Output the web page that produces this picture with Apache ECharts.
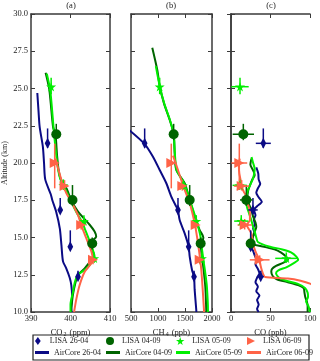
<!DOCTYPE html>
<html>
<head>
<meta charset="utf-8">
<script src="https://cdn.jsdelivr.net/npm/echarts/dist/echarts.min.js"></script>
<style>
  html, body { margin: 0; padding: 0; background: #fff; }
  #chart { width: 320px; height: 361px; }
</style>
</head>
<body>
<div id="chart"></div>
<script>
// ---- data: [value, altitude km] ----
const co2Air2604 = [[391.6,24.7],[391.9,23.5],[392.2,22.4],[393.0,21.1],[393.3,20.0],[393.6,18.9],[395.0,17.9],[395.4,17.5],[396.4,16.7],[397.3,15.6],[397.7,14.5],[398.1,13.4],[398.9,12.95],[399.8,12.3],[400.2,11.8],[400.4,11.1],[400.2,10.3],[400.3,10.0]];
const co2Air0409 = [[393.7,26.06],[394.6,25.0],[395.0,24.0],[395.6,22.4],[396.2,21.9],[396.6,20.5],[397.0,19.5],[397.6,18.86],[399.0,18.3],[400.2,17.5],[401.9,16.73],[404.9,15.84],[406.1,15.4],[406.5,15.05],[405.3,14.7],[405.5,14.2],[405.7,13.8],[403.6,12.93],[401.9,12.5],[401.1,11.8],[400.6,11.14],[400.2,10.27],[400.1,10.0]];
const co2Air0509 = [[394.0,26.0],[394.8,25.0],[395.2,24.0],[395.7,22.4],[396.2,21.0],[396.9,19.5],[397.5,18.86],[398.6,18.3],[400.0,17.5],[401.5,16.7],[403.0,16.0],[403.6,15.6],[405.2,14.5],[406.1,13.7],[404.0,12.9],[401.9,12.5],[401.1,12.0],[400.6,11.3],[400.0,10.5],[400.0,10.0]];
const co2Air0609 = [[396.2,20.3],[397.7,18.86],[398.9,18.0],[400.2,17.4],[401.9,16.5],[402.7,15.84],[404.0,14.95],[405.3,14.05],[405.7,13.5],[403.6,12.7],[402.3,11.8],[401.5,10.9],[400.9,10.0]];

const ch4Air2604 = [[470,22.2],[753,21.27],[907,20.42],[1031,19.53],[1154,18.64],[1246,17.74],[1339,17.07],[1370,16.85],[1401,16.17],[1494,15.28],[1568,14.38],[1587,13.71],[1630,12.82],[1667,12.37],[1679,11.48],[1709,10.13],[1710,10.0]];
const ch4Air0409 = [[894,27.74],[987,26.24],[1031,25.17],[1111,24.0],[1216,22.9],[1290,21.93],[1309,20.65],[1339,19.53],[1494,18.64],[1587,17.52],[1679,16.4],[1772,15.5],[1840,15.0],[1815,14.6],[1800,14.2],[1830,13.3],[1876,11.7],[1894,10.13],[1895,10.0]];
const ch4Air0509 = [[960,26.5],[1031,25.17],[1115,24.0],[1220,22.9],[1290,21.93],[1312,20.65],[1345,19.53],[1480,18.64],[1590,17.52],[1690,16.4],[1760,15.5],[1790,15.0],[1800,14.6],[1850,13.27],[1880,12.5],[1905,11.7],[1925,10.13],[1925,10.0]];
const ch4Air0609 = [[1278,20.5],[1370,19.53],[1463,18.5],[1587,17.3],[1679,15.95],[1741,14.6],[1802,12.82],[1852,10.13],[1853,10.0]];

const coAir2604 = [[32,19.7],[34.5,19.3],[35,18.9],[37,18.6],[34,18.3],[32,18.0],[35,17.7],[39,17.4],[33,17.1],[29,16.85],[31,16.5],[29,16.2],[30,15.9],[28,15.6],[30,15.3],[27,15.0],[26,14.7],[25,14.4],[28,14.1],[30,13.8],[32,13.5],[31,13.2],[34,12.9],[36,12.6],[33,12.3],[31,12.0],[34,11.7],[32,11.4],[36,11.1],[33,10.8],[35,10.5],[33,10.2],[35,10.0]];
const coAir0409 = [[26,20.3],[24.5,19.9],[28,19.5],[30,19.2],[27,18.9],[24,18.5],[22,18.2],[21,17.9],[20,17.5],[23,17.2],[26,16.8],[28,16.4],[31,16.0],[32,15.7],[30,15.4],[28,15.1],[27,14.8],[26,14.6],[40,14.4],[55,14.2],[63,14.0],[70,13.7],[72,13.5],[66,13.3],[57,13.1],[52,12.9],[51,12.7],[53,12.4],[58,12.2],[72,12.0],[85,11.8],[92,11.6],[93,11.3],[94,11.0],[96,10.7],[97,10.4],[97,10.0]];
const coAir0509 = [[26,20.4],[28,20.0],[30,19.6],[29,19.2],[27.5,18.9],[24,18.5],[21.5,18.2],[19.5,17.8],[19,17.4],[20.5,17.0],[23,16.6],[25.5,16.2],[27.5,15.8],[30,15.4],[32,15.0],[34,14.7],[48,14.4],[65,14.2],[76,14.0],[83,13.7],[85,13.5],[80,13.3],[70,13.0],[60,12.8],[57,12.6],[61,12.3],[70,12.1],[84,11.9],[94,11.6],[97,11.3],[97.5,11.0],[95,10.7],[98,10.4],[100,10.0]];
const coAir0609 = [[11,20.3],[10,19.8],[10.5,19.3],[12,18.9],[13.5,18.4],[16,18.1],[19.4,17.74],[21,17.3],[23.6,16.85],[24,16.17],[20,15.84],[25.7,15.28],[27.8,14.6],[30,14.2],[32,13.94],[36,13.5],[37.5,13.1],[39,12.8],[41,12.5],[43,12.35],[72,12.25],[88,12.1],[100,11.9],[105,11.7],[108,11.3],[110,10.8],[110,10.0]];

// LISA samples: altitude, altitude error up/down, values per gas, CO error
const lisa2604Alt = [21.32, 16.85, 14.38, 12.37];
const lisa2604Up = [1.0, 0.8, 1.1, 0.4];
const lisa2604Dn = [0.3, 0.2, 0.2, 0.2];
const lisa2604CO2 = [394.2, 397.4, 399.95, 401.9];
const lisa2604CH4 = [753, 1370, 1568, 1667];
const lisa2604CO = [40.9, 27.8, 24.9, 37.6];
const lisa2604COErr = [9.5, 6, 2, 4];

const lisa0409Alt = [21.93, 17.52, 14.6];
const lisa0409Up = [0.7, 1.0, 0.4];
const lisa0409Dn = [0.4, 0.4, 0.4];
const lisa0409CO2 = [396.4, 400.5, 405.5];
const lisa0409CH4 = [1290, 1587, 1790];
const lisa0409CO = [15.6, 19.4, 24.9];
const lisa0409COErr = [13.5, 8, 2];

const lisa0509Alt = [25.12, 18.5, 16.1, 13.6];
const lisa0509Up = [0.6, 0.4, 0.4, 0.4];
const lisa0509Dn = [0.5, 0.3, 0.3, 0.3];
const lisa0509CO2 = [395.1, 398.2, 403.4, 406.0];
const lisa0509CH4 = [1031, 1460, 1709, 1814];
const lisa0509CO = [11.4, 11, 13, 70];
const lisa0509COErr = [11, 9, 9, 14];

const lisa0609Alt = [20.0, 18.45, 15.84, 13.5];
const lisa0609Up = [1.3, 0.4, 0.4, 0.3];
const lisa0609Dn = [1.7, 0.3, 0.3, 0.3];
const lisa0609CO2 = [396.0, 398.5, 402.7, 405.7];
const lisa0609CH4 = [1246, 1450, 1698, 1772];
const lisa0609CO = [10.5, 13.5, 17.3, 36.3];
const lisa0609COErr = [10, 9.5, 9, 12.5];

const co2ErrX = 0.5, ch4ErrX = 15;

const xTicksCO2 = [390, 410, 10];
const xTicksCH4 = [500, 2000, 500];
const xTicksCO = [0, 100, 50];
const altTicks = [10, 30, 2.5];

const BLUE = '#0b0b85', DGREEN = '#006400', LGREEN = '#00ee00', RED = '#ff6347';
const FONT = '"Liberation Serif", "DejaVu Serif", serif';
const FRAME = '#3a3a3a';

const DIAMOND = 'path://M5,0 L10,7 L5,14 L0,7 Z';
const STAR = 'path://M50,0 L61,35 L98,35 L68,57 L79,91 L50,70 L21,91 L32,57 L2,35 L39,35 Z';
const TRI = 'path://M0,0 L10,5 L0,10 Z';

const chart = echarts.init(document.getElementById('chart'), null, { renderer: 'canvas' });

const gridBoxes = [
  { left: 31, width: 79 },
  { left: 131, width: 81 },
  { left: 231, width: 79 }
];
const ranges = [xTicksCO2, xTicksCH4, xTicksCO];
const xNames = ['{n|CO}{s|2}{n| (ppm)}', '{n|CH}{s|4}{n| (ppb)}', '{n|CO (ppb)}'];

const grids = gridBoxes.map(g => ({ left: g.left, width: g.width, top: 14, bottom: 49 }));

const axisCommon = {
  axisLine: { show: true, lineStyle: { color: FRAME, width: 1.5 } },
  axisTick: { show: true, inside: true, length: 4, lineStyle: { color: FRAME, width: 1 } },
  splitLine: { show: false }
};

const xAxes = [];
const yAxes = [];
// bottom x axes (0..2), then top mirrors (3..5)
ranges.forEach((r, i) => {
  xAxes.push(Object.assign({
    type: 'value', gridIndex: i, position: 'bottom', min: r[0], max: r[1], interval: r[2],
    name: xNames[i], nameLocation: 'middle', nameGap: 10,
    nameTextStyle: {
      rich: {
        n: { fontFamily: FONT, fontSize: 8.5, color: '#222' },
        s: { fontFamily: FONT, fontSize: 6, color: '#222', padding: [5, 1, 0, 1] }
      }
    },
    axisLabel: { fontFamily: FONT, fontSize: 8.5, color: '#222', margin: 2, formatter: v => String(v) }
  }, axisCommon));
});
ranges.forEach((r, i) => {
  xAxes.push(Object.assign({
    type: 'value', gridIndex: i, position: 'top', min: r[0], max: r[1], interval: r[2],
    axisLabel: { show: false }
  }, axisCommon));
});
ranges.forEach((r, i) => {
  yAxes.push(Object.assign({
    type: 'value', gridIndex: i, position: 'left', min: altTicks[0], max: altTicks[1], interval: altTicks[2],
    name: i === 0 ? 'Altitude (km)' : '', nameLocation: 'middle', nameGap: 21,
    nameTextStyle: { fontFamily: FONT, fontSize: 8, color: '#222' },
    axisLabel: { show: i === 0, fontFamily: FONT, fontSize: 8.5, color: '#222', margin: 3,
      formatter: v => v.toFixed(1) }
  }, axisCommon));
});
ranges.forEach((r, i) => {
  yAxes.push(Object.assign({
    type: 'value', gridIndex: i, position: 'right', min: altTicks[0], max: altTicks[1], interval: altTicks[2],
    axisLabel: { show: false }
  }, axisCommon));
});

const series = [];

function airLine(name, data, color, panel) {
  series.push({
    name: name, type: 'line', data: data, xAxisIndex: panel, yAxisIndex: panel,
    showSymbol: false, symbol: 'none', smooth: 0.25, clip: true,
    lineStyle: { color: color, width: 2 }, itemStyle: { color: color }, z: 2
  });
}

function errBars(color, panel, alt, vals, xErr, up, dn) {
  const data = alt.map((a, k) => [vals[k], a, Array.isArray(xErr) ? xErr[k] : xErr, up[k], dn[k]]);
  series.push({
    type: 'custom', xAxisIndex: panel, yAxisIndex: panel, z: 3, silent: true,
    encode: { x: 0, y: 1 },
    data: data,
    renderItem: function (params, api) {
      const x = api.value(0), y = api.value(1), ex = api.value(2);
      const l = api.coord([x - ex, y]), r = api.coord([x + ex, y]);
      const t = api.coord([x, y + api.value(3)]), b = api.coord([x, y - api.value(4)]);
      const st = { stroke: color, lineWidth: 1.5 };
      return { type: 'group', children: [
        { type: 'line', shape: { x1: l[0], y1: l[1], x2: r[0], y2: r[1] }, style: st },
        { type: 'line', shape: { x1: t[0], y1: t[1], x2: b[0], y2: b[1] }, style: st }
      ] };
    }
  });
}

function lisaPoints(name, color, symbol, size, panel, alt, vals) {
  series.push({
    name: name, type: 'scatter', xAxisIndex: panel, yAxisIndex: panel, z: 4,
    symbol: symbol, symbolSize: size, symbolKeepAspect: true,
    itemStyle: { color: color, opacity: 1 },
    data: alt.map((a, k) => [vals[k], a])
  });
}

// panel a: CO2
airLine('AirCore 26-04', co2Air2604, BLUE, 0);
airLine('AirCore 04-09', co2Air0409, DGREEN, 0);
airLine('AirCore 05-09', co2Air0509, LGREEN, 0);
airLine('AirCore 06-09', co2Air0609, RED, 0);
// panel b: CH4
airLine('AirCore 26-04', ch4Air2604, BLUE, 1);
airLine('AirCore 04-09', ch4Air0409, DGREEN, 1);
airLine('AirCore 05-09', ch4Air0509, LGREEN, 1);
airLine('AirCore 06-09', ch4Air0609, RED, 1);
// panel c: CO
airLine('AirCore 26-04', coAir2604, BLUE, 2);
airLine('AirCore 04-09', coAir0409, DGREEN, 2);
airLine('AirCore 05-09', coAir0509, LGREEN, 2);
airLine('AirCore 06-09', coAir0609, RED, 2);

const lisaSets = [
  { name: 'LISA 26-04', color: BLUE, symbol: DIAMOND, size: [8, 11], alt: lisa2604Alt, up: lisa2604Up, dn: lisa2604Dn,
    vals: [lisa2604CO2, lisa2604CH4, lisa2604CO], coErr: lisa2604COErr },
  { name: 'LISA 04-09', color: DGREEN, symbol: 'circle', size: 10, alt: lisa0409Alt, up: lisa0409Up, dn: lisa0409Dn,
    vals: [lisa0409CO2, lisa0409CH4, lisa0409CO], coErr: lisa0409COErr },
  { name: 'LISA 05-09', color: LGREEN, symbol: STAR, size: 10, alt: lisa0509Alt, up: lisa0509Up, dn: lisa0509Dn,
    vals: [lisa0509CO2, lisa0509CH4, lisa0509CO], coErr: lisa0509COErr },
  { name: 'LISA 06-09', color: RED, symbol: TRI, size: 10, alt: lisa0609Alt, up: lisa0609Up, dn: lisa0609Dn,
    vals: [lisa0609CO2, lisa0609CH4, lisa0609CO], coErr: lisa0609COErr }
];

lisaSets.forEach(s => {
  const xe = [co2ErrX, ch4ErrX, s.coErr];
  for (let p = 0; p < 3; p++) {
    errBars(s.color, p, s.alt, s.vals[p], xe[p], s.up, s.dn);
    lisaPoints(s.name, s.color, s.symbol, s.size, p, s.alt, s.vals[p]);
  }
});

// legend: one component per entry, laid out 4 columns x 2 rows
const legendCols = [35, 106, 176, 247];
const legendTxt = { fontFamily: FONT, fontSize: 8, color: '#222' };
const legends = [];
lisaSets.forEach((s, i) => {
  legends.push({
    left: legendCols[i], top: 337, padding: 0, itemWidth: 14, itemHeight: 8, itemGap: 0,
    selectedMode: false, textStyle: legendTxt, symbolKeepAspect: true,
    data: [{ name: s.name, icon: s.symbol === 'circle' ? 'circle' : s.symbol }]
  });
  legends.push({
    left: legendCols[i], top: 348.5, padding: 0, itemWidth: 14, itemHeight: 3, itemGap: 0,
    selectedMode: false, textStyle: legendTxt,
    data: [{ name: s.name.replace('LISA', 'AirCore'), icon: 'rect' }]
  });
});

chart.setOption({
  backgroundColor: '#fff',
  animation: false,
  grid: grids,
  xAxis: xAxes,
  yAxis: yAxes,
  legend: legends,
  graphic: [
    { type: 'rect', shape: { x: 33, y: 335, width: 276, height: 25 }, z: -1,
      style: { fill: 'none', stroke: '#222', lineWidth: 1.2 } },
    { type: 'text', x: 71, y: 6, style: { text: '(a)', font: '8.5px ' + FONT, fill: '#222', textAlign: 'center', textVerticalAlign: 'middle' } },
    { type: 'text', x: 171, y: 6, style: { text: '(b)', font: '8.5px ' + FONT, fill: '#222', textAlign: 'center', textVerticalAlign: 'middle' } },
    { type: 'text', x: 271, y: 6, style: { text: '(c)', font: '8.5px ' + FONT, fill: '#222', textAlign: 'center', textVerticalAlign: 'middle' } }
  ],
  series: series
});
</script>
</body>
</html>
